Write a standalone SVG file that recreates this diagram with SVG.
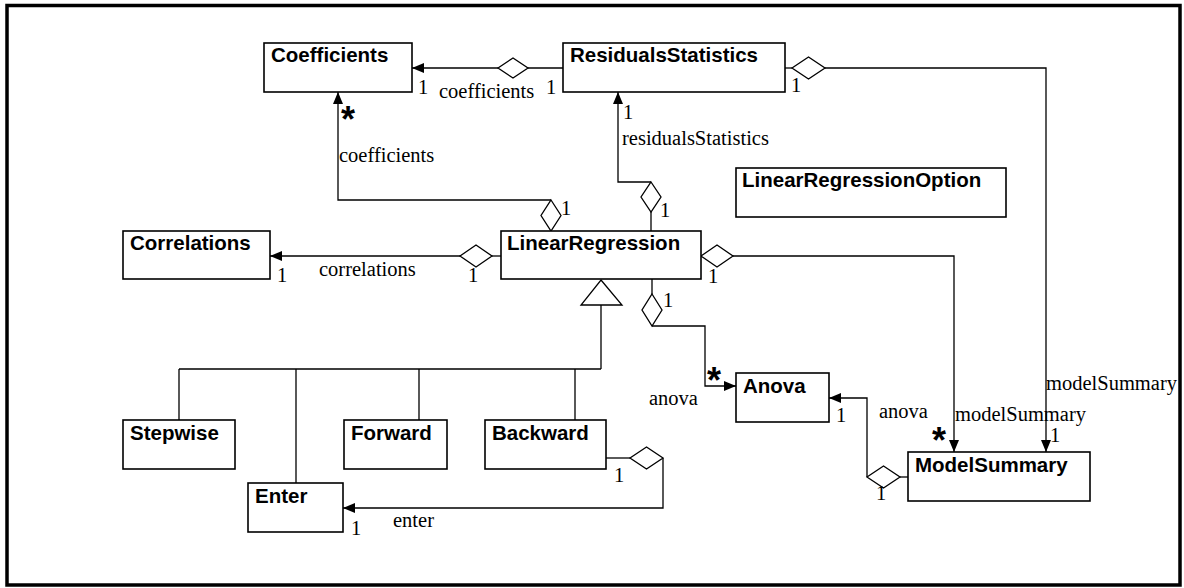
<svg xmlns="http://www.w3.org/2000/svg" width="1184" height="588" viewBox="0 0 1184 588">
  <defs>
    <marker id="arrow" viewBox="0 0 12 10" refX="12" refY="5" markerWidth="12" markerHeight="10" markerUnits="userSpaceOnUse" orient="auto">
      <path d="M0,0 L12,5 L0,10 Z" fill="#000"/>
    </marker>
    <style>
      .box { fill: #fff; stroke: #000; stroke-width: 1.6; }
      .title { font-family: "Liberation Sans", Arial, sans-serif; font-weight: bold; font-size: 20.5px; fill: #000; }
      .lbl { font-family: "Liberation Serif", "Times New Roman", serif; font-size: 20.5px; fill: #000; }
      .star { font-family: "Liberation Sans", Arial, sans-serif; font-weight: bold; font-size: 36px; fill: #000; }
      .wire { fill: none; stroke: #000; stroke-width: 1.3; }
      .arr { marker-end: url(#arrow); }
      .dia { fill: #fff; stroke: #000; stroke-width: 1.3; }
    </style>
  </defs>

  <rect x="0" y="0" width="1184" height="588" fill="#fff"/>
  <!-- outer frame -->
  <rect x="7" y="5.5" width="1173" height="579.5" fill="none" stroke="#000" stroke-width="3.5"/>

  <!-- connectors -->
  <g id="connectors">
    <!-- ResidualsStatistics -> Coefficients -->
    <line class="wire" x1="563" y1="68" x2="528" y2="68"/>
    <line class="wire arr" x1="498" y1="68" x2="412" y2="68"/>
    <polygon class="dia" points="498,68 513,58 528,68 513,78"/>

    <!-- LinearRegression -> Coefficients -->
    <path class="wire arr" d="M551,200 H338 V92"/>
    <polygon class="dia" points="551,200 561,215.5 551,231 541,215.5"/>

    <!-- LinearRegression -> ResidualsStatistics -->
    <line class="wire" x1="651" y1="231" x2="651" y2="212"/>
    <path class="wire arr" d="M651,182 H618 V92"/>
    <polygon class="dia" points="651,182 661,197 651,212 641,197"/>

    <!-- LinearRegression -> Correlations -->
    <line class="wire" x1="501" y1="256" x2="492" y2="256"/>
    <line class="wire arr" x1="460" y1="256" x2="270" y2="256"/>
    <polygon class="dia" points="460,256 476,245 492,256 476,267"/>

    <!-- LinearRegression -> ModelSummary -->
    <path class="wire arr" d="M733,256 H954 V452"/>
    <polygon class="dia" points="701,256 717,245 733,256 717,267"/>

    <!-- ResidualsStatistics -> ModelSummary -->
    <line class="wire" x1="785" y1="68" x2="792" y2="68"/>
    <path class="wire arr" d="M825,68 H1046 V452"/>
    <polygon class="dia" points="792,68 808.5,57 825,68 808.5,79"/>

    <!-- LinearRegression -> Anova -->
    <line class="wire" x1="652" y1="279" x2="652" y2="294"/>
    <path class="wire arr" d="M652,326 H705 V386 H736"/>
    <polygon class="dia" points="652,294 662,310 652,326 642,310"/>

    <!-- ModelSummary -> Anova -->
    <line class="wire" x1="908" y1="477" x2="900" y2="477"/>
    <path class="wire arr" d="M867,477 V398 H829"/>
    <polygon class="dia" points="867,477 883.5,466 900,477 883.5,488"/>

    <!-- Backward -> Enter -->
    <line class="wire" x1="606" y1="458" x2="630" y2="458"/>
    <path class="wire arr" d="M663,458 V508 H343"/>
    <polygon class="dia" points="630,458 646.5,447 663,458 646.5,469"/>

    <!-- generalization to LinearRegression -->
    <path class="wire" d="M601,305 V369 M179,369 H601 M179,369 V420 M296,369 V483 M419,369 V420 M575,369 V420"/>
    <polygon class="dia" points="601,280 622,305 581,305"/>

    <!-- association labels -->
    <text class="lbl" x="418" y="94">1</text>
    <text class="lbl" x="439" y="98">coefficients</text>
    <text class="lbl" x="546" y="94">1</text>
    <text class="lbl" x="339" y="162">coefficients</text>
    <text class="star" x="341" y="132">*</text>
    <text class="lbl" x="561" y="215">1</text>
    <text class="lbl" x="623" y="119">1</text>
    <text class="lbl" x="622" y="145">residualsStatistics</text>
    <text class="lbl" x="660" y="217">1</text>
    <text class="lbl" x="791" y="92">1</text>
    <text class="lbl" x="277" y="282">1</text>
    <text class="lbl" x="319" y="276">correlations</text>
    <text class="lbl" x="468" y="282">1</text>
    <text class="lbl" x="708" y="283">1</text>
    <text class="lbl" x="663" y="307">1</text>
    <text class="lbl" x="649" y="405">anova</text>
    <text class="star" x="707" y="393">*</text>
    <text class="lbl" x="836" y="422">1</text>
    <text class="lbl" x="879" y="418">anova</text>
    <text class="lbl" x="955" y="421">modelSummary</text>
    <text class="star" x="932" y="453">*</text>
    <text class="lbl" x="1050" y="442">1</text>
    <text class="lbl" x="1046" y="390">modelSummary</text>
    <text class="lbl" x="876" y="500">1</text>
    <text class="lbl" x="614" y="482">1</text>
    <text class="lbl" x="351" y="535">1</text>
    <text class="lbl" x="393" y="527">enter</text>
  </g>

  <!-- classes -->
  <g id="Coefficients">
    <rect class="box" x="264" y="43" width="148" height="49"/>
    <text class="title" x="271" y="62">Coefficients</text>
  </g>
  <g id="ResidualsStatistics">
    <rect class="box" x="563" y="43" width="222" height="49"/>
    <text class="title" x="570" y="62">ResidualsStatistics</text>
  </g>
  <g id="LinearRegressionOption">
    <rect class="box" x="736" y="168" width="270" height="49"/>
    <text class="title" x="742" y="187">LinearRegressionOption</text>
  </g>
  <g id="Correlations">
    <rect class="box" x="123" y="231" width="147" height="48"/>
    <text class="title" x="130" y="250">Correlations</text>
  </g>
  <g id="LinearRegression">
    <rect class="box" x="501" y="231" width="200" height="48"/>
    <text class="title" x="507" y="250">LinearRegression</text>
  </g>
  <g id="Stepwise">
    <rect class="box" x="123" y="420" width="112" height="49"/>
    <text class="title" x="130" y="440">Stepwise</text>
  </g>
  <g id="Forward">
    <rect class="box" x="344" y="420" width="103" height="49"/>
    <text class="title" x="351" y="440">Forward</text>
  </g>
  <g id="Backward">
    <rect class="box" x="485" y="420" width="121" height="49"/>
    <text class="title" x="492" y="440">Backward</text>
  </g>
  <g id="Enter">
    <rect class="box" x="248" y="483" width="95" height="49"/>
    <text class="title" x="255" y="503">Enter</text>
  </g>
  <g id="Anova">
    <rect class="box" x="736" y="373" width="93" height="49"/>
    <text class="title" x="743" y="393">Anova</text>
  </g>
  <g id="ModelSummary">
    <rect class="box" x="908" y="452" width="182" height="49"/>
    <text class="title" x="915" y="472">ModelSummary</text>
  </g>
</svg>
